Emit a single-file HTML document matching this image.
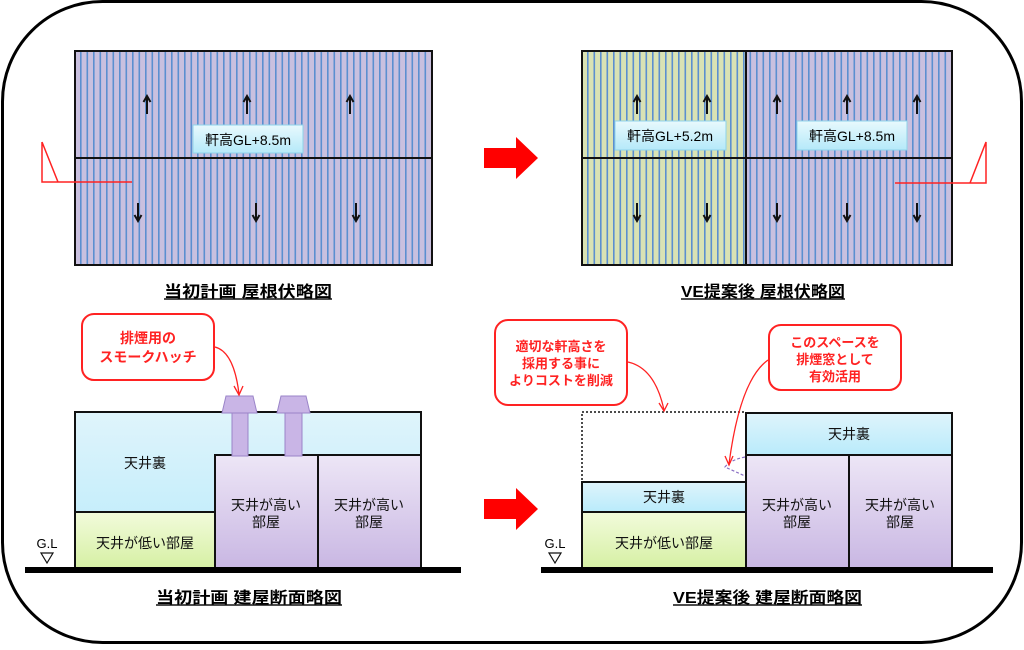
<!DOCTYPE html>
<html><head><meta charset="utf-8"><style>
body{margin:0;background:#fff}
svg text{font-family:"Liberation Sans","Noto Sans CJK JP",sans-serif}
</style></head><body>
<svg width="1024" height="645" viewBox="0 0 1024 645" xmlns="http://www.w3.org/2000/svg">
<defs>
<pattern id="st" x="0" y="0" width="6.5" height="10" patternUnits="userSpaceOnUse">
<rect width="6.5" height="10" fill="#c9c0df"/><rect x="2" width="1.6" height="10" fill="#5b8fd0"/></pattern>
<pattern id="sg" x="0" y="0" width="6.5" height="10" patternUnits="userSpaceOnUse">
<rect width="6.5" height="10" fill="#d9e2b4"/><rect x="2" width="1.6" height="10" fill="#5b8fd0"/></pattern>
<linearGradient id="lb" x1="0" y1="0" x2="0" y2="1"><stop offset="0" stop-color="#dff4fb"/><stop offset="1" stop-color="#b9ebfb"/></linearGradient>
<linearGradient id="gr" x1="0" y1="0" x2="0" y2="1"><stop offset="0" stop-color="#f2fbdb"/><stop offset="1" stop-color="#d6f0a4"/></linearGradient>
<linearGradient id="pu" x1="0" y1="0" x2="0" y2="1"><stop offset="0" stop-color="#ede6f6"/><stop offset="1" stop-color="#c9b7e3"/></linearGradient>
<linearGradient id="lab" x1="0" y1="0" x2="0" y2="1"><stop offset="0" stop-color="#e8f9fd"/><stop offset="1" stop-color="#b5e9f9"/></linearGradient>
<path id="up" d="M0 -9 V9 M-3.5 -3 L0 -9 L3.5 -3" fill="none" stroke="#111" stroke-width="2"/>
<path id="dn" d="M0 -9 V9 M-3.5 3 L0 9 L3.5 3" fill="none" stroke="#111" stroke-width="2"/>
</defs>
<rect x="2.5" y="1.5" width="1019" height="641" rx="100" fill="#fff" stroke="#000" stroke-width="3"/>

<!-- roof 1 -->
<rect x="75" y="51" width="357" height="214" fill="url(#st)" stroke="#111" stroke-width="2"/>
<line x1="75" y1="158" x2="432" y2="158" stroke="#111" stroke-width="2"/>
<use href="#up" x="147" y="105"/><use href="#up" x="247" y="105"/><use href="#up" x="350" y="105"/>
<use href="#dn" x="138" y="212"/><use href="#dn" x="256" y="212"/><use href="#dn" x="356" y="212"/>
<rect x="193" y="125" width="110" height="28" fill="url(#lab)" stroke="#8fd3ea"/>
<text x="248" y="145" font-size="14" text-anchor="middle">軒高GL+8.5m</text>
<path d="M42 142 L42 182 L132 182 M42 142 L58 182" fill="none" stroke="#f22" stroke-width="1.5"/>
<text x="164" y="297" font-size="16" font-weight="bold" textLength="168" lengthAdjust="spacingAndGlyphs">当初計画 屋根伏略図</text>
<line x1="164" y1="299" x2="332" y2="299" stroke="#111" stroke-width="1.5"/>

<!-- roof 2 -->
<rect x="582" y="51" width="164" height="214" fill="url(#sg)"/>
<rect x="746" y="51" width="206" height="214" fill="url(#st)"/>
<rect x="582" y="51" width="370" height="214" fill="none" stroke="#111" stroke-width="2"/>
<line x1="582" y1="158" x2="952" y2="158" stroke="#111" stroke-width="2"/>
<line x1="746" y1="51" x2="746" y2="265" stroke="#111" stroke-width="2"/>
<use href="#up" x="637" y="105"/><use href="#up" x="707" y="105"/><use href="#up" x="777" y="105"/><use href="#up" x="847" y="105"/><use href="#up" x="917" y="105"/>
<use href="#dn" x="637" y="212"/><use href="#dn" x="707" y="212"/><use href="#dn" x="777" y="212"/><use href="#dn" x="847" y="212"/><use href="#dn" x="917" y="212"/>
<rect x="615" y="121" width="111" height="29" fill="url(#lab)" stroke="#8fd3ea"/>
<text x="670" y="141" font-size="14" text-anchor="middle">軒高GL+5.2m</text>
<rect x="797" y="121" width="110" height="29" fill="url(#lab)" stroke="#8fd3ea"/>
<text x="852" y="141" font-size="14" text-anchor="middle">軒高GL+8.5m</text>
<path d="M895 183 L986 183 L986 142 L970 183" fill="none" stroke="#f22" stroke-width="1.5"/>
<text x="681" y="297" font-size="16" font-weight="bold" textLength="164" lengthAdjust="spacingAndGlyphs">VE提案後 屋根伏略図</text>
<line x1="681" y1="299" x2="845" y2="299" stroke="#111" stroke-width="1.5"/>

<!-- big arrows -->
<path d="M484 148 H516 V137 L538 158 L516 179 V168 H484 Z" fill="#f00"/>
<path d="M484 499 H516 V488 L538 509 L516 530 V519 H484 Z" fill="#f00"/>

<!-- section 1 -->
<rect x="75" y="412" width="346" height="156" fill="url(#lb)" stroke="#111" stroke-width="2"/>
<rect x="75" y="512" width="140" height="56" fill="url(#gr)" stroke="#111" stroke-width="2"/>
<rect x="215" y="455" width="103" height="113" fill="url(#pu)" stroke="#111" stroke-width="2"/>
<rect x="318" y="455" width="103" height="113" fill="url(#pu)" stroke="#111" stroke-width="2"/>
<g fill="#c9b5e6" stroke="#9a84c8">
<rect x="232" y="413" width="16" height="43"/><rect x="285" y="413" width="17" height="43"/>
<path d="M226 396 H253 L257 413 H222 Z"/><path d="M281 396 H306 L310 413 H277 Z"/>
</g>
<g font-size="14" text-anchor="middle" fill="#111">
<text x="145" y="468">天井裏</text>
<text x="145" y="548">天井が低い部屋</text>
<text x="266" y="510">天井が高い</text><text x="266" y="527">部屋</text>
<text x="369" y="510">天井が高い</text><text x="369" y="527">部屋</text>
</g>
<rect x="82" y="314" width="132" height="66" rx="12" fill="#fff" stroke="#f22" stroke-width="2"/>
<text x="148" y="343" font-size="14" font-weight="bold" fill="#f22" text-anchor="middle">排煙用の</text>
<text x="148" y="362" font-size="14" font-weight="bold" fill="#f22" text-anchor="middle">スモークハッチ</text>
<path d="M215 347 Q234 352 239 394 M234 386 L239 395 L243 386" fill="none" stroke="#f22" stroke-width="1.3"/>
<rect x="25" y="567" width="436" height="6" fill="#000"/>
<text x="47" y="548" font-size="13" text-anchor="middle">G.L</text>
<path d="M41 553 H53 L47 563 Z" fill="none" stroke="#111" stroke-width="1.2"/>
<text x="156" y="603" font-size="16" font-weight="bold" textLength="186" lengthAdjust="spacingAndGlyphs">当初計画 建屋断面略図</text>
<line x1="156" y1="605" x2="342" y2="605" stroke="#111" stroke-width="1.5"/>

<!-- section 2 -->
<rect x="582" y="412" width="164" height="70" fill="none" stroke="#111" stroke-width="1.5" stroke-dasharray="2,2"/>
<rect x="582" y="482" width="164" height="30" fill="url(#lb)" stroke="#111" stroke-width="2"/>
<rect x="582" y="512" width="164" height="56" fill="url(#gr)" stroke="#111" stroke-width="2"/>
<rect x="746" y="413" width="206" height="42" fill="url(#lb)" stroke="#111" stroke-width="2"/>
<rect x="746" y="455" width="103" height="113" fill="url(#pu)" stroke="#111" stroke-width="2"/>
<rect x="849" y="455" width="103" height="113" fill="url(#pu)" stroke="#111" stroke-width="2"/>
<path d="M745 457 Q730 460 725 467 L745 476" fill="none" stroke="#8a6fc4" stroke-width="1.2" stroke-dasharray="3,2"/>
<g font-size="14" text-anchor="middle" fill="#111">
<text x="664" y="502">天井裏</text>
<text x="664" y="548">天井が低い部屋</text>
<text x="849" y="439">天井裏</text>
<text x="797" y="510">天井が高い</text><text x="797" y="527">部屋</text>
<text x="900" y="510">天井が高い</text><text x="900" y="527">部屋</text>
</g>
<rect x="495" y="320" width="132" height="85" rx="13" fill="#fff" stroke="#f22" stroke-width="2"/>
<g font-size="13" font-weight="bold" fill="#f22" text-anchor="middle">
<text x="561" y="351">適切な軒高さを</text><text x="561" y="368">採用する事に</text><text x="561" y="385">よりコストを削減</text>
</g>
<path d="M628 362 Q655 368 664 410 M659 403 L664 411 L668 403" fill="none" stroke="#f22" stroke-width="1.3"/>
<rect x="769" y="325" width="132" height="65" rx="12" fill="#fff" stroke="#f22" stroke-width="2"/>
<g font-size="13" font-weight="bold" fill="#f22" text-anchor="middle">
<text x="835" y="347">このスペースを</text><text x="835" y="364">排煙窓として</text><text x="835" y="381">有効活用</text>
</g>
<path d="M768 360 Q740 380 729 464 M725 456 L729 465 L733 456" fill="none" stroke="#f22" stroke-width="1.3"/>
<rect x="541" y="567" width="452" height="6" fill="#000"/>
<text x="555" y="548" font-size="13" text-anchor="middle">G.L</text>
<path d="M549 553 H561 L555 563 Z" fill="none" stroke="#111" stroke-width="1.2"/>
<text x="673" y="603" font-size="16" font-weight="bold" textLength="189" lengthAdjust="spacingAndGlyphs">VE提案後 建屋断面略図</text>
<line x1="673" y1="605" x2="862" y2="605" stroke="#111" stroke-width="1.5"/>
</svg>
</body></html>
